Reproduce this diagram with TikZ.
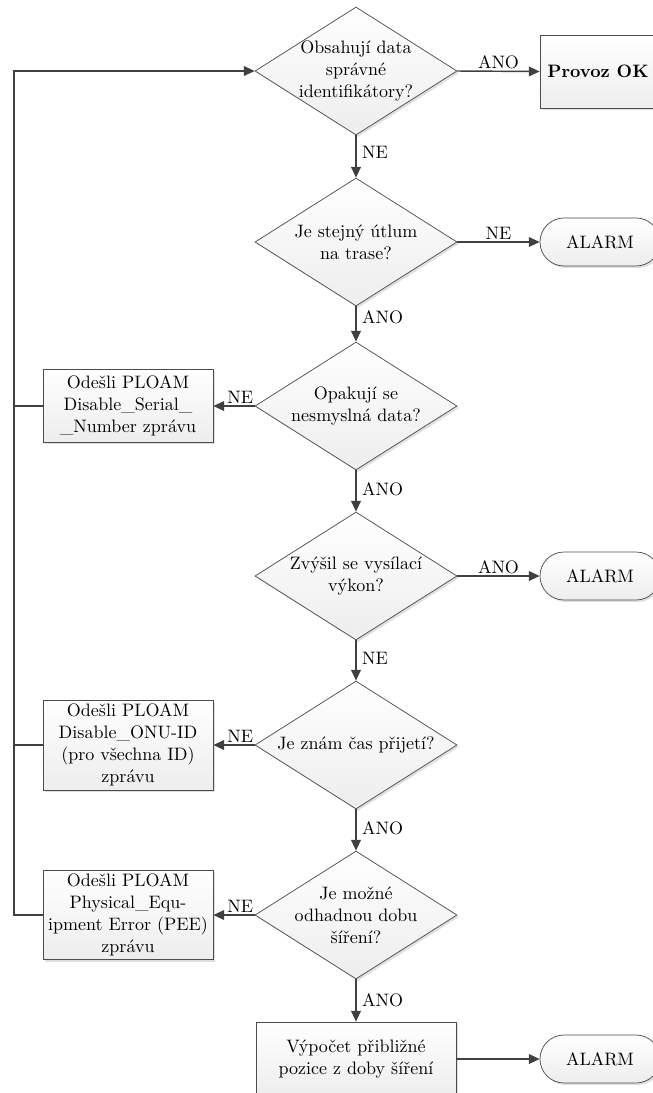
\documentclass[tikz,border=0pt]{standalone}
\usetikzlibrary{shapes.geometric,arrows.meta,shadows}
\def\pxu{0.5556pt}
\begin{document}
\begin{tikzpicture}[x=0.5556pt,y=-0.5556pt,
  font=\fontsize{10}{12.2}\selectfont,
  conn/.style={draw=black!75, line width=0.8pt},
  arr/.style={conn, -{Triangle[length=6pt,width=5.4pt]}},
  lbl/.style={inner sep=3pt},
  filled/.style={draw=black!70, line width=0.4pt, top color=white, bottom color=black!7,
    drop shadow={shadow xshift=1.1pt, shadow yshift=-1.1pt, opacity=0.25}},
  decision/.style={filled, diamond, minimum width=202*\pxu, minimum height=128*\pxu, inner sep=0pt},
  stepbox/.style={filled, rectangle, align=center, inner sep=2pt},
  terminal/.style={filled, rectangle, rounded corners=24*\pxu, minimum width=120*\pxu, minimum height=48*\pxu},
  dtext/.style={align=center}
]
\useasboundingbox (0,0) rectangle (653,1093);

% decisions down the middle column
\node[decision, label={[dtext]center:Obsahují data\\správné\\identifikátory?}] (d1) at (356,71) {};
\node[decision, label={[dtext]center:Je stejný útlum\\na trase?}] (d2) at (356,242) {};
\node[decision, label={[dtext]center:Opakují se\\nesmyslná data?}] (d3) at (356,406) {};
\node[decision, label={[dtext]center:Zvýšil se vysílací\\výkon?}] (d4) at (356,576) {};
\node[decision, label={[dtext]center:Je znám čas přijetí?}] (d5) at (356,745) {};
\node[decision, label={[dtext]center:Je možné\\odhadnou dobu\\šíření?}] (d6) at (356,915) {};

% outcomes on the right
\node[stepbox, minimum width=116*\pxu, minimum height=73*\pxu, font=\fontsize{10}{12.2}\selectfont\bfseries] (ok) at (598,71.5) {Provoz OK};
\node[terminal] (a1) at (600,242) {ALARM};
\node[terminal] (a2) at (600,576) {ALARM};
\node[terminal] (a3) at (600,1059) {ALARM};

% PLOAM messages on the left
\node[stepbox, minimum width=170*\pxu, minimum height=73*\pxu] (b1) at (128,406)
  {Odešli PLOAM\\Disable\_Serial\_\\\_Number zprávu};
\node[stepbox, minimum width=170*\pxu, minimum height=90*\pxu] (b2) at (128,745)
  {Odešli PLOAM\\Disable\_ONU-ID\\(pro všechna ID)\\zprávu};
\node[stepbox, minimum width=170*\pxu, minimum height=89*\pxu] (b3) at (128,915)
  {Odešli PLOAM\\Physical\_Equ-\\ipment Error (PEE)\\zprávu};

% final computation
\node[stepbox, minimum width=200*\pxu, minimum height=74*\pxu] (calc) at (356,1059)
  {Výpočet přibližné\\pozice z doby šíření};

% main flow
\draw[arr] (d1.east) -- node[lbl, above=-2pt] {ANO} (ok.west);
\draw[arr] (d1.south) -- node[lbl, right, pos=0.4] {NE} (d2.north);
\draw[arr] (d2.east) -- node[lbl, above=-2pt] {NE} (a1.west);
\draw[arr] (d2.south) -- node[lbl, right, pos=0.3] {ANO} (d3.north);
\draw[arr] (d3.west) -- node[lbl, above=-2pt, pos=0.35] {NE} (b1.east);
\draw[arr] (d3.south) -- node[lbl, right, pos=0.45] {ANO} (d4.north);
\draw[arr] (d4.east) -- node[lbl, above=-2pt] {ANO} (a2.west);
\draw[arr] (d4.south) -- node[lbl, right, pos=0.45] {NE} (d5.north);
\draw[arr] (d5.west) -- node[lbl, above=-2pt, pos=0.35] {NE} (b2.east);
\draw[arr] (d5.south) -- node[lbl, right, pos=0.45] {ANO} (d6.north);
\draw[arr] (d6.west) -- node[lbl, above=-2pt, pos=0.35] {NE} (b3.east);
\draw[arr] (d6.south) -- node[lbl, right, pos=0.5] {ANO} (calc.north);
\draw[arr] (calc.east) -- (a3.west);

% return rail back to the first check
\coordinate (rail) at (14,915);
\draw[arr] (b3.west) -- (rail) |- (d1.west);
\draw[conn] (b1.west) -- (b1.west -| rail);
\draw[conn] (b2.west) -- (b2.west -| rail);
\end{tikzpicture}
\end{document}
